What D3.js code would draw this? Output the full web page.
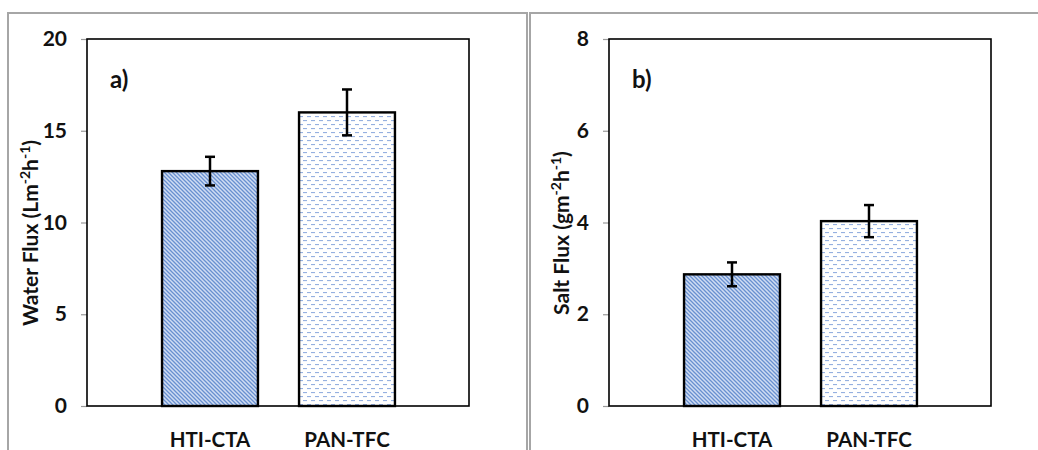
<!DOCTYPE html>
<html><head><meta charset="utf-8">
<script src="https://cdn.jsdelivr.net/npm/d3@7"></script>
<style>
html,body{margin:0;padding:0;background:#fff;}
svg{display:block;font-family:Lato,"Open Sans",sans-serif;}
</style></head>
<body>
<svg id="c" width="1038" height="450"></svg>
<script>
const categories = ["HTI-CTA", "PAN-TFC"];
const waterFlux = [12.8, 16.0];
const waterErr = [0.78, 1.25];
const saltFlux = [2.87, 4.03];
const saltErr = [0.26, 0.35];
const waterTicks = [0, 5, 10, 15, 20];
const saltTicks = [0, 2, 4, 6, 8];
const panelLabels = ["a)", "b)"];

const svg = d3.select("#c");
const defs = svg.append("defs");
// diagonal stripe pattern
const pd = defs.append("pattern").attr("id","diag").attr("patternUnits","userSpaceOnUse")
  .attr("width",4).attr("height",4);
pd.append("rect").attr("width",4).attr("height",4).attr("fill","#d0ddf3");
pd.append("path").attr("d","M-1,-1L5,5M-1,3L1,5M3,-1L5,1").attr("stroke","#6890d0").attr("stroke-width",1.3);
// dashed pattern
const pw = defs.append("pattern").attr("id","dash").attr("patternUnits","userSpaceOnUse")
  .attr("width",8).attr("height",8);
pw.append("rect").attr("width",8).attr("height",8).attr("fill","#ffffff");
pw.append("rect").attr("x",0).attr("y",1).attr("width",4).attr("height",1.1).attr("fill","#95b0e0");
pw.append("rect").attr("x",4).attr("y",5).attr("width",4).attr("height",1.1).attr("fill","#95b0e0");
const fills = ["url(#diag)", "url(#dash)"];

function panel(cfg){
  // outer frame
  svg.append("rect").attr("x",cfg.fx).attr("y",13).attr("width",cfg.fw).attr("height",460)
    .attr("fill","none").attr("stroke","#a6a6a6").attr("stroke-width",2);
  const g = svg.append("g").attr("transform",`translate(${cfg.px},39)`);
  const W = 382, H = 367;
  const y = d3.scaleLinear().domain([cfg.ticks[0], cfg.ticks[cfg.ticks.length-1]]).range([H,0]);
  const x = d3.scaleBand().domain(categories).range([54.5, 328.5]).paddingInner(0.3).paddingOuter(0.15);
  // y axis
  const ya = g.append("g").call(d3.axisLeft(y).tickValues(cfg.ticks).tickSize(6).tickPadding(14));
  ya.select(".domain").remove();
  ya.selectAll(".tick line").attr("stroke","#999").attr("stroke-width",1.2);
  ya.selectAll(".tick text").attr("font-size",21).attr("font-weight","bold").attr("fill","#111")
    .attr("font-family","Lato,'Open Sans',sans-serif");
  // bars
  g.selectAll(".bar").data(cfg.vals).enter().append("rect")
    .attr("x",(d,i)=>x(categories[i])).attr("y",d=>y(d))
    .attr("width",x.bandwidth()).attr("height",d=>H-y(d))
    .attr("fill",(d,i)=>fills[i]).attr("stroke","#000").attr("stroke-width",2.4);
  // error bars
  cfg.vals.forEach((v,i)=>{
    const cx = x(categories[i]) + x.bandwidth()/2;
    const e = cfg.errs[i];
    g.append("line").attr("x1",cx).attr("x2",cx).attr("y1",y(v+e)).attr("y2",y(v-e))
      .attr("stroke","#000").attr("stroke-width",2.5);
    [v+e, v-e].forEach(t=>g.append("line").attr("x1",cx-5).attr("x2",cx+5).attr("y1",y(t)).attr("y2",y(t))
      .attr("stroke","#000").attr("stroke-width",2.5));
  });
  // plot border
  g.append("rect").attr("x",0).attr("y",0).attr("width",W).attr("height",H)
    .attr("fill","none").attr("stroke","#000").attr("stroke-width",1.6);
  // category labels
  g.selectAll(".cat").data(categories).enter().append("text")
    .attr("x",d=>x(d)+x.bandwidth()/2).attr("y",H+41).attr("text-anchor","middle")
    .attr("font-size",20.5).attr("font-weight","bold").attr("fill","#111").text(d=>d);
  // panel label
  g.append("text").attr("x",23).attr("y",49).attr("font-size",24).attr("font-weight","bold")
    .attr("fill","#111").text(cfg.label);
  // y title
  const t = svg.append("text").attr("transform",`translate(${cfg.tx},${cfg.ty}) rotate(-90)`)
    .attr("text-anchor","middle").attr("font-size",21).attr("font-weight","bold").attr("fill","#111");
  cfg.title.forEach(p=>{
    const s = t.append("tspan").text(p.t);
    if(p.sup){ s.attr("font-size",14).attr("baseline-shift","super"); }
  });
}

panel({fx:8, fw:519, px:87, ticks:waterTicks, vals:waterFlux, errs:waterErr, label:panelLabels[0],
  tx:38, ty:233, title:[{t:"Water Flux  (Lm"},{t:"-2",sup:1},{t:"h"},{t:"-1",sup:1},{t:")"}]});
panel({fx:530, fw:520, px:609, ticks:saltTicks, vals:saltFlux, errs:saltErr, label:panelLabels[1],
  tx:569, ty:233, title:[{t:"Salt Flux  (gm"},{t:"-2",sup:1},{t:"h"},{t:"-1",sup:1},{t:")"}]});
</script>
</body></html>
